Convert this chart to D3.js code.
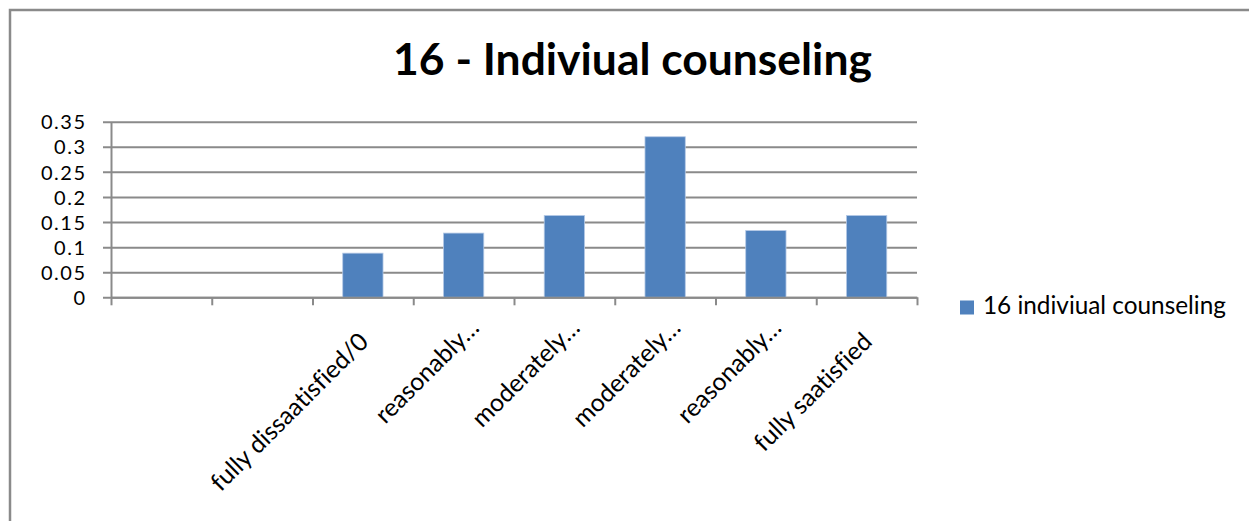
<!DOCTYPE html>
<html>
<head>
<meta charset="utf-8">
<script src="https://cdn.jsdelivr.net/npm/d3@7"></script>
<style>
  html, body { margin: 0; padding: 0; background: #fff; }
  svg { display: block; }
  text { font-family: Lato, "Open Sans", sans-serif; fill: #000; font-variant-ligatures: none; font-feature-settings: "liga" 0; }
</style>
</head>
<body>
<svg id="chart" width="1249" height="521"></svg>
<script>
// ---- data ----
const title = "16 - Indiviual counseling";
const seriesName = "16 indiviual counseling";
const categories = ["", "", "fully dissaatisfied/0", "reasonably\u2026", "moderately\u2026", "moderately\u2026", "reasonably\u2026", "fully saatisfied"];
const values = [null, null, 0.088, 0.128, 0.163, 0.320, 0.133, 0.163];
const yTickValues = [0, 0.05, 0.1, 0.15, 0.2, 0.25, 0.3, 0.35];
const yTickLabels = ["0", "0.05", "0.1", "0.15", "0.2", "0.25", "0.3", "0.35"];

// ---- layout ----
const W = 1249, H = 521;
const plot = { left: 111, right: 917, top: 121.7, bottom: 297.3 };
const gridColor = "#8a8a8a";
const barColor = "#4f81bd";

const svg = d3.select("#chart");

function fitSize(sel, target, base) {
  sel.style("font-size", base + "px");
  const w = sel.node().getComputedTextLength();
  const s = base * target / w;
  sel.style("font-size", s + "px");
  return s;
}

// outer frame (only top and left edges visible)
svg.append("path")
  .attr("d", `M10,${H} L10,10 L${W},10`)
  .attr("fill", "none")
  .attr("stroke", "#8a8a8a")
  .attr("stroke-width", 2.5);

// scales
const idx = categories.map((d, i) => i);
const x = d3.scaleBand().domain(idx).range([plot.left, plot.right]).paddingInner(0.6).paddingOuter(0.3);
const y = d3.scaleLinear().domain([0, 0.35]).range([plot.bottom, plot.top]);

// gridlines + y axis
const yAxis = d3.axisLeft(y)
  .tickValues(yTickValues)
  .tickFormat((d, i) => yTickLabels[i])
  .tickSize(-(plot.right - plot.left))
  .tickSizeOuter(0);
const gy = svg.append("g").attr("transform", `translate(${plot.left},0)`).call(yAxis);
gy.select(".domain").attr("stroke", gridColor).attr("stroke-width", 2);
gy.selectAll(".tick line").attr("stroke", gridColor).attr("stroke-width", 2).attr("x1", -8);
const yTexts = gy.selectAll(".tick text")
  .attr("font-family", null).attr("font-size", null)
  .attr("dy", "0.36em")
  .style("font-size", "20px")
  .style("letter-spacing", "1.5px")
  .attr("x", 85 + 1.5 - plot.left);

// bars
svg.append("g").selectAll("rect")
  .data(values.map((v, i) => ({ v, i })).filter(d => d.v != null))
  .join("rect")
  .attr("x", d => x(d.i))
  .attr("width", x.bandwidth())
  .attr("y", d => y(d.v))
  .attr("height", d => y(0) - y(d.v))
  .attr("fill", barColor)
  .attr("stroke", "#b4c9e6")
  .attr("stroke-width", 0.8);

// x axis line + boundary ticks
const xb = d3.scaleLinear().domain([0, categories.length]).range([plot.left, plot.right]);
const gx = svg.append("g").attr("transform", `translate(0,${plot.bottom})`)
  .call(d3.axisBottom(xb).tickValues(d3.range(categories.length + 1)).tickFormat("").tickSize(8).tickSizeOuter(0));
gx.select(".domain").attr("stroke", gridColor).attr("stroke-width", 2);
gx.selectAll(".tick line").attr("stroke", gridColor).attr("stroke-width", 2);

// category labels, rotated -45
const lab = svg.append("g").selectAll("text")
  .data(categories.map((c, i) => ({ c, i })).filter(d => d.c !== ""))
  .join("text")
  .attr("text-anchor", "end")
  .attr("transform", d => {
    const cx = x(d.i) + x.bandwidth() / 2;
    const trunc = d.c.endsWith("\u2026");
    const ex = cx + (trunc ? 17 : 7);
    const ey = plot.bottom + (trunc ? 32 : 46);
    return `translate(${ex},${ey}) rotate(-45)`;
  })
  .text(d => d.c);
const longest = lab.filter(d => d.c === "fully dissaatisfied/0");
const xSize = fitSize(longest, 211, 20);
lab.style("font-size", xSize + "px");

// title
const t = svg.append("text")
  .attr("x", 632.5).attr("y", 75)
  .attr("text-anchor", "middle")
  .style("font-weight", "bold")
  .text(title);
fitSize(t, 479, 40);

// legend
svg.append("rect").attr("x", 960).attr("y", 300.5).attr("width", 14).attr("height", 14).attr("fill", barColor);
const lt = svg.append("text").attr("x", 983).attr("y", 314.3).text(seriesName);
fitSize(lt, 243, 20);
</script>
</body>
</html>
